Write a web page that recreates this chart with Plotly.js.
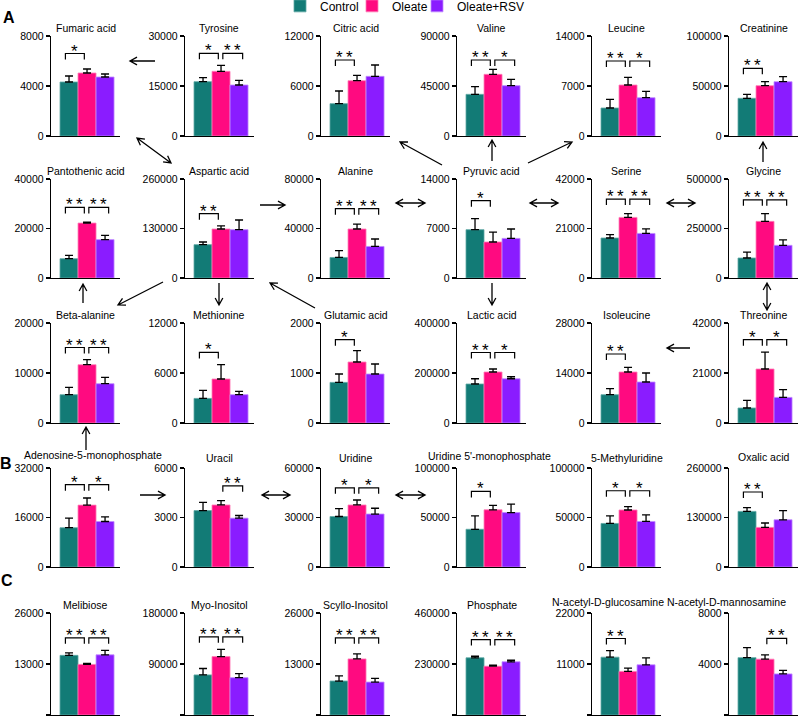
<!DOCTYPE html>
<html><head><meta charset="utf-8">
<script src="https://cdn.plot.ly/plotly-3.0.1.min.js"></script>
<style>html,body{margin:0;padding:0;background:#fff}#chart{width:800px;height:720px}</style>
</head><body><div id="chart"></div>
<script>
// ---------------- DATA ----------------
const metabolites = [
  'Fumaric acid','Tyrosine','Citric acid','Valine','Leucine','Creatinine',
  'Pantothenic acid','Aspartic acid','Alanine','Pyruvic acid','Serine','Glycine',
  'Beta-alanine','Methionine','Glutamic acid','Lactic acid','Isoleucine','Threonine',
  'Adenosine-5-monophosphate','Uracil','Uridine',"Uridine 5'-monophosphate",'5-Methyluridine','Oxalic acid',
  'Melibiose','Myo-Inositol','Scyllo-Inositol','Phosphate','N-acetyl-D-glucosamine','N-acetyl-D-mannosamine'
];
const groups = ['Control','Oleate','Oleate+RSV'];
const axisMax = [
  8000,30000,12000,90000,14000,100000,
  40000,260000,80000,14000,42000,500000,
  20000,12000,2000,400000,28000,42000,
  32000,6000,60000,100000,100000,260000,
  26000,180000,26000,460000,22000,8000
];
const control = [
  4320,16300,3880,37500,3920,37700,
  7800,87500,16600,6830,16970,101000,
  5660,2950,812,156000,7920,6300,
  12700,3420,30600,38100,44000,146000,
  15200,70700,8660,258000,12470,4500
];
const controlSem = [
  480,1200,1520,6900,1220,4000,
  1330,7000,5500,1560,1390,30000,
  1470,960,168,21000,1680,3200,
  3100,500,4800,13600,7600,10000,
  660,11400,1300,7000,1420,780
];
const oleate = [
  5040,19400,6640,55500,7140,50300,
  22200,128700,39600,5090,25700,286000,
  11660,5280,1220,204000,14280,22680,
  20000,3760,37600,57800,57600,104000,
  12900,103100,14300,220000,9400,4380
];
const oleateSem = [
  320,1800,640,4500,1080,4000,
  400,8300,4000,1410,1600,39000,
  1000,1720,226,12000,1290,7120,
  2300,260,3000,4400,3400,11500,
  250,12600,1300,4600,720,330
];
const oleateRsv = [
  4720,15300,7160,45300,5360,54300,
  15500,126900,25500,5600,18900,165000,
  7860,3400,980,177000,11480,10750,
  14700,2960,32100,55000,46000,124000,
  15340,65900,8400,240000,10830,3220
];
const oleateRsvSem = [
  240,1400,1360,5700,900,5000,
  1700,25400,6000,1330,1900,28000,
  1270,390,200,8000,2520,3250,
  1500,160,3500,8500,6600,24000,
  1120,7200,960,7000,1490,280
];
// significance: Control vs Oleate, Oleate vs Oleate+RSV
const sigCtrlOle = [
  '*','*','**','**','**','**',
  '**','**','**','*','**','**',
  '**','*','*','**','**','*',
  '*','','*','*','*','**',
  '**','**','**','**','**',''
];
const sigOleRsv = [
  '','**','','*','*','',
  '**','','**','','**','**',
  '**','','','*','','*',
  '*','**','*','','*','',
  '**','**','**','**','','**'
];
const bracketLevel = [
  6600,24800,9120,68400,10500,67700,
  28500,169000,56000,10930,33500,395000,
  15100,8470,1666,282000,19320,35000,
  26600,4920,48000,76300,77000,197000,
  19660,137900,19660,340000,16500,6010
];

// ---------------- LAYOUT GEOMETRY ----------------
const W = 800, H = 720;
const colX = [51,185,321,457,592,729];
const plotW = 69;
const rowY = [[36,136],[179,278],[323,423],[468,567],[613,715]];
const rowTitleY = [28,171,315,458,605];
const titleShift = {18:[7,-3], 21:[-2,-2], 23:[0,-1], 28:[-19,-3], 29:[-37,-3]};
const colors = ['#127b76','#ff0a80','#8a1cff'];
const edgeColors = ['#5fa8a4','#ff7fb8','#c08cff'];
const legendWidths = [27, 20, 80];
const FONT = 'Liberation Sans, Arial, sans-serif';
const px = v => v / W;
const py = v => 1 - v / H;

const values = [control, oleate, oleateRsv];
const sems = [controlSem, oleateSem, oleateRsvSem];

const traces = [];
const layout = {
  width: W, height: H,
  margin: {l:0,r:0,t:0,b:0,autoexpand:false},
  paper_bgcolor: '#fff', plot_bgcolor: 'rgba(0,0,0,0)',
  barmode: 'overlay',
  showlegend: true,
  legend: {orientation:'h', x:0.35, y:1.012, xanchor:'left', yanchor:'top',
           font:{family:FONT,size:12,color:'#000'}, bgcolor:'rgba(0,0,0,0)', itemclick:false},
  font: {family: FONT, color:'#000'},
  shapes: [], annotations: []
};

metabolites.forEach((name, i) => {
  const n = i + 1;
  const xa = n === 1 ? 'x' : 'x' + n;
  const ya = n === 1 ? 'y' : 'y' + n;
  const r = Math.floor(i / 6), c = i % 6;
  const [top, bot] = rowY[r];
  const x0 = colX[c];
  const max = axisMax[i];

  groups.forEach((g, k) => {
    traces.push({
      type: 'bar', x: [k], y: [values[k][i]], width: [1],
      xaxis: xa, yaxis: ya, name: g, legendgroup: g, showlegend: i === 0,
      legendwidth: legendWidths[k],
      marker: {color: colors[k], line: {color: edgeColors[k], width: 0.8}},
      error_y: {type:'data', symmetric:false, array:[sems[k][i]], arrayminus:[0],
                color:'#000', thickness:1.3, width:4},
      hoverinfo: 'skip'
    });
  });

  layout[n === 1 ? 'xaxis' : 'xaxis' + n] = {
    domain: [px(x0), px(x0 + plotW)], anchor: ya,
    range: [-1.0, 2.83], showline: true, linecolor:'#000', linewidth:1.3,
    showgrid:false, zeroline:false, showticklabels:false, ticks:'', fixedrange:true
  };
  layout[n === 1 ? 'yaxis' : 'yaxis' + n] = {
    domain: [py(bot), py(top)], anchor: xa,
    range: [0, max], showline: true, linecolor:'#000', linewidth:1.3,
    showgrid:false, zeroline:false, ticks:'outside', ticklen:4, tickwidth:1.2, tickcolor:'#000',
    tickvals: [0, max/2, max], ticktext: ['0', String(max/2), String(max)],
    tickfont: {family:FONT, size:10.5, color:'#000'}, fixedrange:true
  };

  // subplot title
  const sh = titleShift[i] || [0, 0];
  layout.annotations.push({
    xref:'paper', yref:'paper', x: px(x0 + plotW/2 + sh[0]), y: py(rowTitleY[r] + sh[1]),
    xanchor:'center', yanchor:'middle', text: name, showarrow:false,
    font:{family:FONT, size:10.5, color:'#000'}
  });

  // significance brackets
  const drop = 6 / (bot - top) * max;
  const lvl = bracketLevel[i];
  const pairs = [[-0.2, 0.85, sigCtrlOle[i]], [1.1, 2.2, sigOleRsv[i]]];
  pairs.forEach(([a, b, s]) => {
    if (!s) return;
    layout.shapes.push({
      type:'path', xref: xa, yref: ya,
      path: `M${a},${lvl - drop} L${a},${lvl} L${b},${lvl} L${b},${lvl - drop}`,
      line:{color:'#000', width:1.2}
    });
    layout.annotations.push({
      xref: xa, yref: ya, x: (a + b) / 2, y: lvl, xanchor:'center', yanchor:'bottom',
      yshift: -9, text: s.split('').join('\u2009'), showarrow:false,
      font:{family:FONT, size:17, color:'#000'}
    });
  });
});

// ---------------- PATHWAY ARROWS (pixel positions) ----------------
const arrows = [
  [155,61,130,61,false],
  [442,165,400,142,false],
  [492,161,492,140,false],
  [528,163,572,142,false],
  [137,138,171,163,true],
  [260,205,285,205,false],
  [396,203,425,203,true],
  [530,203,558,203,true],
  [667,203,695,203,true],
  [763,162,763,142,false],
  [83,303,83,284,false],
  [163,282,118,305,false],
  [219,283,219,305,false],
  [315,308,270,283,false],
  [492,283,492,305,false],
  [767,283,767,310,true],
  [690,348,667,348,false],
  [86,450,86,427,false],
  [140,495,165,495,false],
  [262,495,290,495,true],
  [396,495,425,495,true]
];
function headPath(tx, ty, ux, uy) {
  const L = 8, a = 0.5;
  const c = Math.cos(a), s = Math.sin(a);
  const h1x = tx - L * (ux * c - uy * s), h1y = ty - L * (ux * s + uy * c);
  const h2x = tx - L * (ux * c + uy * s), h2y = ty - L * (-ux * s + uy * c);
  return `M${px(h1x)},${py(h1y)} L${px(tx)},${py(ty)} L${px(h2x)},${py(h2y)}`;
}
arrows.forEach(([x0, y0, x1, y1, dbl]) => {
  const len = Math.hypot(x1 - x0, y1 - y0);
  const ux = (x1 - x0) / len, uy = (y1 - y0) / len;
  let path = `M${px(x0)},${py(y0)} L${px(x1)},${py(y1)} ` + headPath(x1, y1, ux, uy);
  if (dbl) path += ' ' + headPath(x0, y0, -ux, -uy);
  layout.shapes.push({type:'path', xref:'paper', yref:'paper', path, line:{color:'#000', width:1.3}});
});

// panel letters
[['A',9,17],['B',6,463],['C',7,580]].forEach(([t, x, y]) => {
  layout.annotations.push({xref:'paper', yref:'paper', x: px(x), y: py(y), xanchor:'center', yanchor:'middle',
    text:'<b>' + t + '</b>', showarrow:false, font:{family:FONT, size:16, color:'#000'}});
});

Plotly.newPlot('chart', traces, layout, {staticPlot:true, displayModeBar:false});
</script>
</body></html>
